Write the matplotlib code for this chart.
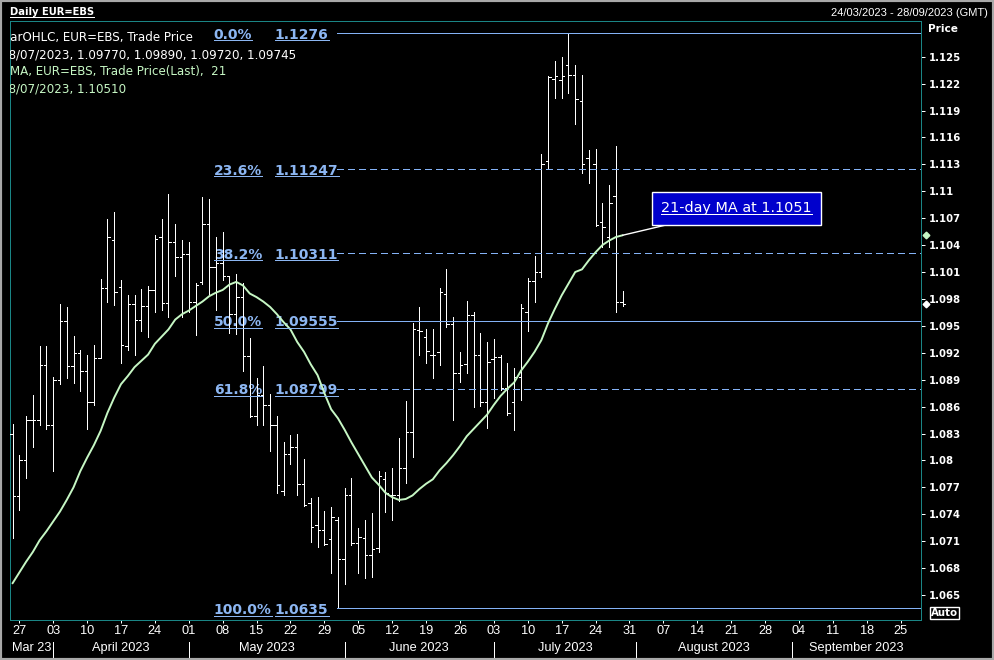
import matplotlib
matplotlib.use("Agg")
import matplotlib.pyplot as plt
import matplotlib.transforms as mtransforms
import matplotlib.text as mtext
from matplotlib.lines import Line2D
from matplotlib.patches import Rectangle
from matplotlib.font_manager import FontProperties
import numpy as np
import pandas as pd

# ---------------- data ----------------
axis_start, axis_end = "2023-03-24", "2023-09-28"

opens = [
    1.0830, 1.0760, 1.0800, 1.0845, 1.0845, 1.0906, 1.0840, 1.0890, 1.0955, 1.0905,
    1.0920, 1.0900, 1.0865, 1.0914, 1.0992, 1.1046, 1.0993, 1.0927, 1.0974, 1.0957,
    1.0972, 1.0990, 1.1049, 1.0975, 1.1043, 1.1027, 1.1030, 1.0977, 1.0999, 1.1064,
    1.1016, 1.1020, 1.1006, 1.0963, 1.0982, 1.0916, 1.0850, 1.0873, 1.0862, 1.0840,
    1.0766, 1.0807, 1.0815, 1.0774, 1.0753, 1.0728, 1.0723, 1.0712, 1.0734, 1.0690,
    1.0762, 1.0708, 1.0714, 1.0695, 1.0702, 1.0779, 1.0762, 1.0762, 1.0792, 1.0832,
    1.0945, 1.0938, 1.0917, 1.0921, 1.0986, 1.0952, 1.0897, 1.0908, 1.0962, 1.0917,
    1.0865, 1.0913, 1.0915, 1.0881, 1.0865, 1.0893, 1.0966, 1.1000, 1.1010, 1.1134,
    1.1225, 1.1224, 1.1241, 1.1230, 1.1201, 1.1137, 1.1130, 1.1066, 1.1049, 1.1095,
    1.09770]
highs = [
    1.0841, 1.0806, 1.0850, 1.0873, 1.0928, 1.0927, 1.0893, 1.0974, 1.0971, 1.0939,
    1.0923, 1.0918, 1.0929, 1.1002, 1.1069, 1.1077, 1.1001, 1.0984, 1.0984, 1.0991,
    1.0994, 1.1051, 1.1069, 1.1097, 1.1064, 1.1046, 1.1044, 1.0998, 1.1094, 1.1091,
    1.1049, 1.1055, 1.1006, 1.1008, 1.0998, 1.0936, 1.0892, 1.0905, 1.0874, 1.0850,
    1.0820, 1.0828, 1.0830, 1.0802, 1.0758, 1.0759, 1.0744, 1.0748, 1.0737, 1.0769,
    1.0780, 1.0725, 1.0734, 1.0741, 1.0788, 1.0787, 1.0792, 1.0825, 1.0866, 1.0953,
    1.0971, 1.0947, 1.0947, 1.0992, 1.1013, 1.0960, 1.0921, 1.0978, 1.0965, 1.0942,
    1.0932, 1.0935, 1.0917, 1.0909, 1.0903, 1.0974, 1.1003, 1.1028, 1.1141, 1.1228,
    1.1245, 1.1250, 1.1276, 1.1241, 1.1230, 1.1146, 1.1147, 1.1087, 1.1107, 1.1150,
    1.09890]
lows = [
    1.0713, 1.0745, 1.0780, 1.0815, 1.0840, 1.0835, 1.0788, 1.0885, 1.0892, 1.0886,
    1.0877, 1.0835, 1.0862, 1.0914, 1.0977, 1.0973, 1.0909, 1.0923, 1.0918, 1.0944,
    1.0938, 1.0966, 1.0968, 1.0960, 1.1006, 1.0960, 1.0966, 1.0940, 1.0997, 1.0986,
    1.0968, 1.1001, 1.0942, 1.0941, 1.0900, 1.0848, 1.0840, 1.0840, 1.0811, 1.0764,
    1.0761, 1.0796, 1.0762, 1.0749, 1.0709, 1.0704, 1.0706, 1.0675, 1.0635, 1.0662,
    1.0706, 1.0675, 1.0669, 1.0670, 1.0698, 1.0743, 1.0734, 1.0755, 1.0775, 1.0804,
    1.0918, 1.0909, 1.0892, 1.0906, 1.0949, 1.0845, 1.0887, 1.0897, 1.0860, 1.0861,
    1.0836, 1.0870, 1.0879, 1.0851, 1.0834, 1.0867, 1.0944, 1.0977, 1.1005, 1.1125,
    1.1204, 1.1204, 1.1209, 1.1175, 1.1120, 1.1109, 1.1061, 1.1038, 1.1038, 1.0966,
    1.09720]
closes = [
    1.0760, 1.0800, 1.0845, 1.0845, 1.0906, 1.0840, 1.0890, 1.0955, 1.0905, 1.0920,
    1.0900, 1.0865, 1.0914, 1.0992, 1.1049, 1.0988, 1.0929, 1.0974, 1.0957, 1.0972,
    1.0990, 1.1047, 1.0975, 1.1043, 1.1027, 1.1030, 1.0977, 1.0995, 1.1064, 1.1016,
    1.1020, 1.1006, 1.0963, 1.0982, 1.0916, 1.0850, 1.0873, 1.0862, 1.0840, 1.0773,
    1.0807, 1.0815, 1.0774, 1.0750, 1.0726, 1.0723, 1.0707, 1.0737, 1.0690, 1.0762,
    1.0708, 1.0715, 1.0695, 1.0701, 1.0783, 1.0764, 1.0762, 1.0792, 1.0832, 1.0947,
    1.0944, 1.0922, 1.0917, 1.0988, 1.0952, 1.0897, 1.0906, 1.0962, 1.0917, 1.0865,
    1.0910, 1.0915, 1.0881, 1.0853, 1.0893, 1.0970, 1.1000, 1.1010, 1.1130, 1.1227,
    1.1228, 1.1228, 1.1230, 1.1203, 1.1130, 1.1125, 1.1062, 1.1060, 1.1087, 1.0977,
    1.09745]
ma21 = [
    1.0663, 1.0675, 1.0687, 1.0698, 1.0711, 1.0721, 1.0732, 1.0743, 1.0756, 1.0770,
    1.0788, 1.0803, 1.0817, 1.0833, 1.0853, 1.0870, 1.0885, 1.0894, 1.0904, 1.0911,
    1.0918, 1.0930, 1.0938, 1.0946, 1.0957, 1.0963, 1.0967, 1.0972, 1.0977, 1.0983,
    1.0987, 1.0990, 1.0996, 1.0999, 1.0995, 1.0986, 1.0982, 1.0977, 1.0971, 1.0963,
    1.0954, 1.0946, 1.0932, 1.0921, 1.0907, 1.0895, 1.0875, 1.0857, 1.0847, 1.0834,
    1.0820, 1.0807, 1.0794, 1.0781, 1.0773, 1.0764, 1.0759, 1.0756, 1.0757, 1.0761,
    1.0768, 1.0774, 1.0779, 1.0789, 1.0797, 1.0806, 1.0816, 1.0827, 1.0835, 1.0843,
    1.0851, 1.0862, 1.0872, 1.0880, 1.0887, 1.0900, 1.0910, 1.0921, 1.0934, 1.0953,
    1.0969, 1.0984, 1.0997, 1.1010, 1.1013, 1.1023, 1.1032, 1.1040, 1.1045, 1.1049,
    1.1051]

fib_pcts = ["0.0%", "23.6%", "38.2%", "50.0%", "61.8%", "100.0%"]
fib_vals = [1.1276, 1.11247, 1.10311, 1.09555, 1.08799, 1.0635]
fib_texts = ["1.1276", "1.11247", "1.10311", "1.09555", "1.08799", "1.0635"]
fib_dashed = [False, True, True, False, True, False]
fib_start_date = "2023-05-31"

y_ticks = [1.065, 1.068, 1.071, 1.074, 1.077, 1.080, 1.083, 1.086, 1.089, 1.092,
           1.095, 1.098, 1.101, 1.104, 1.107, 1.110, 1.113, 1.116, 1.119, 1.122, 1.125]
day_labels = ["27", "03", "10", "17", "24", "01", "08", "15", "22", "29", "05", "12",
              "19", "26", "03", "10", "17", "24", "31", "07", "14", "21", "28", "04",
              "11", "18", "25"]
month_labels = ["Mar 23", "April 2023", "May 2023", "June 2023", "July 2023",
                "August 2023", "September 2023"]
legend_lines = ["BarOHLC, EUR=EBS, Trade Price",
                "28/07/2023, 1.09770, 1.09890, 1.09720, 1.09745",
                "MA, EUR=EBS, Trade Price(Last),  21",
                "28/07/2023, 1.10510"]
annot_text = "21-day MA at 1.1051"

# ---------------- layout ----------------
W, H = 994, 660
L, R, T, B = 10, 921, 21, 620
fig = plt.figure(figsize=(W / 100, H / 100), dpi=100, facecolor="black")
ax = fig.add_axes([L / W, 1 - B / H, (R - L) / W, (B - T) / H], facecolor="black")

axis_days = pd.bdate_range(axis_start, axis_end)
xb = np.arange(len(closes))
xmin, xmax = -0.369, 134.0
ax.set_xlim(xmin, xmax)
ax.set_ylim(1.062215, 1.128979)

teal = "#1a8585"
fibc = "#8cb6f2"
fibline = "#84b2f6"
mac = "#c6f7c4"
PX = 0.72  # one pixel in points
for s in ax.spines.values():
    s.set_color(teal)
    s.set_linewidth(PX)

# OHLC bars
bw = 0.55
ax.vlines(xb, lows, highs, color="white", lw=bw, zorder=3, antialiased=False)
ax.hlines(opens, xb - 0.36, xb, color="white", lw=bw, zorder=3, antialiased=False)
ax.hlines(closes, xb, xb + 0.36, color="white", lw=bw, zorder=3, antialiased=False)

# moving average
ax.plot(xb, ma21, color=mac, lw=1.4, zorder=4, solid_capstyle="round")

# Fibonacci levels
fib_x0 = int(np.where(axis_days == pd.Timestamp(fib_start_date))[0][0])
fib_label_texts = []
for pct, val, vt, dsh in zip(fib_pcts, fib_vals, fib_texts, fib_dashed):
    ln = Line2D([fib_x0 - 0.15, xmax], [val, val], color=fibline, lw=bw, zorder=3.5,
                antialiased=False)
    if dsh:
        ln.set_dashes((8.8, 5.3))
    ax.add_line(ln)
    t1 = ax.text(29.7, val, pct, color=fibc, fontsize=10, fontweight="bold",
                 family="DejaVu Sans", ha="left", va="center_baseline", zorder=2)
    t2 = ax.text(38.7, val, vt, color=fibc, fontsize=10, fontweight="bold",
                 family="DejaVu Sans", ha="left", va="center_baseline", zorder=2)
    fib_label_texts += [t1, t2]

# y axis on the right
ax.yaxis.tick_right()
ax.set_yticks(y_ticks)
ax.set_yticklabels([("%.3f" % v).rstrip("0") for v in y_ticks])
ax.tick_params(axis="y", colors="white", length=3, width=PX, pad=2.9, labelsize=7.3)
for lab in ax.get_yticklabels():
    lab.set_fontweight("bold")
    lab.set_family("DejaVu Sans")

# x axis
mondays = [i for i, d in enumerate(axis_days) if d.weekday() == 0]
ax.set_xticks(mondays)
ax.set_xticklabels(day_labels)
ax.tick_params(axis="x", colors="white", length=2.5, width=PX, pad=1.2, labelsize=9.2)
for lab in ax.get_xticklabels():
    lab.set_family("Liberation Sans")

trans = mtransforms.blended_transform_factory(ax.transData, ax.transAxes)
month_first = [i for i in range(1, len(axis_days))
               if axis_days[i].month != axis_days[i - 1].month]
for m in month_first:
    ax.add_line(Line2D([m, m], [-0.0367, -0.0635], color="white", lw=bw,
                       transform=trans, clip_on=False, antialiased=False))
bounds = [xmin] + month_first + [xmax]
for k, name in enumerate(month_labels):
    ax.text((bounds[k] + bounds[k + 1]) / 2, -0.0475, name, transform=trans,
            ha="center", va="center", color="white", fontsize=9.2,
            family="Liberation Sans", clip_on=False)

# markers at right edge
rtrans = mtransforms.blended_transform_factory(ax.transAxes, ax.transData)
ax.plot([1.0058], [ma21[-1]], marker="D", color=mac, ms=3.4, transform=rtrans,
        clip_on=False, zorder=6)
ax.plot([1.0058], [closes[-1]], marker="D", color="white", ms=3.4, transform=rtrans,
        clip_on=False, zorder=6)

# annotation box
ann = ax.annotate(annot_text, xy=(xb[-1], ma21[-1]), xytext=(106.8, 1.1081),
                  textcoords="data", ha="center", va="center", color="white",
                  fontsize=10.4, family="DejaVu Sans", zorder=7,
                  bbox=dict(boxstyle="square,pad=0.66", fc="#0000cc", ec="white", lw=1),
                  arrowprops=dict(arrowstyle="-", color="white", lw=1,
                                  shrinkA=0, shrinkB=0))

# header texts
title = fig.text(10 / W, 1 - 12 / H, "Daily EUR=EBS", color="white", fontsize=7.2,
                 fontweight="bold", family="DejaVu Sans", ha="left", va="center")
fig.text(988 / W, 1 - 13 / H, "24/03/2023 - 28/09/2023 (GMT)", color="white",
         fontsize=8, family="Liberation Sans", ha="right", va="center")
fig.text(928 / W, 1 - 28.5 / H, "Price", color="white", fontsize=7.6,
         fontweight="bold", family="DejaVu Sans", ha="left", va="center")
fig.text(944.8 / W, 1 - 613 / H, "Auto", color="white", fontsize=7.4,
         fontweight="bold", family="DejaVu Sans", ha="center", va="center",
         bbox=dict(boxstyle="square,pad=0.08", fc="black", ec="white", lw=1))

fig.add_artist(Rectangle((0, 0), 1, 1, transform=fig.transFigure, fill=False,
                         ec="#a8a8a8", lw=3))

# legend lines (clipped at the left edge of the plot)
fig.canvas.draw()
renderer = fig.canvas.get_renderer()
lfp = FontProperties(family="DejaVu Sans", size=8.6)
def tw(s):
    return renderer.get_text_width_height_descent(s, lfp, ismath=False)[0]
hidden = [tw("B"), tw("2") + 0.3 * tw("8"), 0.0, tw("2") + 0.3 * tw("8")]
colors = ["white", "white", mac, mac]
ys = [38, 55, 72, 89]
for s, hd, c, yy in zip(legend_lines, hidden, colors, ys):
    tr = mtransforms.offset_copy(ax.transAxes, fig=fig, x=-hd + 0.5, y=0, units="dots")
    ax.text(0, (B - yy) / (B - T), s, transform=tr, color=c, fontproperties=lfp,
            ha="left", va="center", clip_on=True, zorder=5)

# underlines
fig.canvas.draw()
renderer = fig.canvas.get_renderer()
def underline(t, color, gap=1.6):
    bb = mtext.Text.get_window_extent(t, renderer)
    d = renderer.get_text_width_height_descent("lp", t.get_fontproperties(), ismath=False)[2]
    yb = round(bb.y0 + d - gap) + 0.5
    fig.add_artist(Line2D([bb.x0, bb.x1], [yb, yb], transform=mtransforms.IdentityTransform(),
                          color=color, lw=bw, antialiased=False, zorder=8))
for t in fib_label_texts:
    underline(t, fibc)
underline(title, "white")
underline(ann, "white")

fig.savefig("out.png", dpi=100, facecolor="black")
